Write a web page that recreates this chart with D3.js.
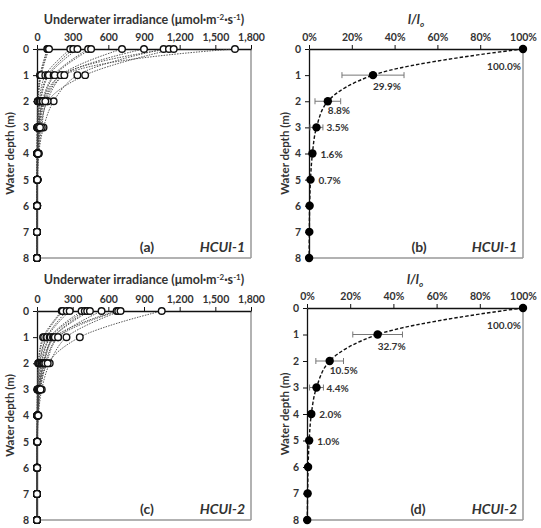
<!DOCTYPE html>
<html lang="en">
<head>
    <meta charset="UTF-8">
    <title>Underwater irradiance</title>
    <style>
        body { margin: 0; background: #fff; }
        svg text { font-family: Lato, "Open Sans", sans-serif; font-weight: bold; fill: #333; }
    </style>
</head>
<body>
    <script src="https://cdn.jsdelivr.net/npm/d3@7"></script>
    <script>
        // depths (m)
        var depths = [0, 1, 2, 3, 4, 5, 6, 7, 8];
        var irrTicks = [0, 300, 600, 900, 1200, 1500, 1800];
        var pctTicks = [0, 20, 40, 60, 80, 100];

        // HCUI-1 profiles (umol m-2 s-1), one per sampling
        var profilesA = [
            [86, 25, 6, 2, 1, 0, 0, 0, 0],
            [93, 30, 8, 3, 1, 0.5, 0, 0, 0],
            [101, 35, 10, 3, 1, 0.5, 0, 0, 0],
            [280, 70, 20, 6, 2, 1, 0, 0, 0],
            [305, 90, 25, 8, 3, 1, 0, 0, 0],
            [340, 100, 30, 10, 4, 1, 0.5, 0, 0],
            [430, 140, 45, 15, 5, 2, 1, 0, 0],
            [455, 150, 50, 18, 6, 2, 1, 0, 0],
            [715, 200, 60, 20, 7, 3, 1, 0, 0],
            [900, 225, 85, 30, 10, 3, 1, 0, 0],
            [1065, 340, 140, 55, 15, 5, 2, 1, 0],
            [1110, 200, 50, 15, 5, 2, 1, 0, 0],
            [1150, 405, 90, 40, 12, 4, 1, 0, 0],
            [1665, 230, 70, 25, 8, 3, 1, 0, 0]
        ];
        // HCUI-2 profiles
        var profilesC = [
            [208, 51, 10, 3, 1, 0, 0, 0, 0],
            [216, 60, 12, 4, 1, 0, 0, 0, 0],
            [250, 79, 20, 6, 2, 1, 0, 0, 0],
            [275, 85, 25, 8, 3, 1, 0, 0, 0],
            [375, 107, 35, 12, 4, 1, 0, 0, 0],
            [402, 115, 40, 14, 4, 1, 0, 0, 0],
            [422, 135, 50, 16, 5, 2, 0, 0, 0],
            [445, 140, 55, 18, 6, 2, 1, 0, 0],
            [543, 177, 79, 25, 8, 2, 1, 0, 0],
            [670, 150, 60, 20, 6, 2, 1, 0, 0],
            [683, 177, 70, 22, 7, 2, 1, 0, 0],
            [703, 248, 107, 40, 12, 4, 1, 0, 0],
            [1049, 360, 90, 30, 10, 3, 1, 0, 0]
        ];
        // I/Io (%) mean and error
        var pctB = [100, 29.9, 8.8, 3.5, 1.6, 0.7, 0.3, 0.15, 0.05];
        var errB = [0, 14.5, 6.0, 3.0, 1.2, 0.5, 0.2, 0.1, 0.05];
        var pctD = [100, 32.7, 10.5, 4.4, 2.0, 1.0, 0.5, 0.3, 0.1];
        var errD = [0, 11.5, 6.4, 3.2, 1.3, 0.6, 0.3, 0.2, 0.1];

        var width = 541, height = 528;
        var svg = d3.select('body').append('svg')
            .attr('width', width)
            .attr('height', height);

        // label offsets for each depth in percent panels
        var labelPos = [
            {dx: -19, dy: 21, anchor: 'middle'},
            {dx: 0, dy: 15, anchor: 'start'},
            {dx: 0, dy: 13, anchor: 'start'},
            {dx: 10, dy: 4, anchor: 'start'},
            {dx: 8, dy: 4, anchor: 'start'},
            {dx: 8, dy: 4, anchor: 'start'}
        ];

        function frame(x, y, ticks, fmt) {
            // grey plot border on right and bottom
            svg.append('line')
                .attr('x1', x.range()[1]).attr('x2', x.range()[1])
                .attr('y1', y.range()[0]).attr('y2', y.range()[1])
                .attr('stroke', '#999').attr('stroke-width', 1.5);
            svg.append('line')
                .attr('x1', x.range()[0]).attr('x2', x.range()[1])
                .attr('y1', y.range()[1]).attr('y2', y.range()[1])
                .attr('stroke', '#999').attr('stroke-width', 1.5);

            var gx = svg.append('g')
                .attr('transform', 'translate(0,' + y.range()[0] + ')')
                .call(d3.axisTop(x).tickValues(ticks).tickFormat(fmt).tickSize(4).tickSizeOuter(0).tickPadding(4));
            var gy = svg.append('g')
                .attr('transform', 'translate(' + x.range()[0] + ',0)')
                .call(d3.axisLeft(y).tickValues(depths).tickSize(4).tickSizeOuter(0).tickPadding(4));
            [gx, gy].forEach(function(g) {
                g.select('.domain').attr('stroke', '#111').attr('stroke-width', 1.3);
                g.selectAll('.tick line').attr('stroke', '#111');
                g.selectAll('.tick text').attr('font-size', 10.5).attr('fill', '#333')
                    .style('font-family', 'Lato, sans-serif').style('font-weight', 'bold');
            });
        }

        function ytitle(xp, cy) {
            svg.append('text')
                .attr('transform', 'translate(' + xp + ',' + cy + ') rotate(-90)')
                .attr('text-anchor', 'middle')
                .attr('font-size', 11.5)
                .text('Water depth (m)');
        }

        function tags(x, y, letter, site) {
            var yb = y.range()[1] - 6;
            svg.append('text')
                .attr('x', (x.range()[0] + x.range()[1]) / 2 + 3)
                .attr('y', yb)
                .attr('text-anchor', 'middle')
                .attr('font-size', 14)
                .text('(' + letter + ')');
            svg.append('text')
                .attr('x', x.range()[1] - 6)
                .attr('y', yb)
                .attr('text-anchor', 'end')
                .attr('font-size', 14)
                .attr('font-style', 'italic')
                .text(site);
        }

        function irrPanel(profiles, xr, yr, titleY, letter, site) {
            var x = d3.scaleLinear().domain([0, 1800]).range(xr);
            var y = d3.scaleLinear().domain([0, 8]).range(yr);
            frame(x, y, irrTicks, d3.format(','));

            var t = svg.append('text')
                .attr('x', (xr[0] + xr[1]) / 2)
                .attr('y', titleY)
                .attr('text-anchor', 'middle')
                .attr('font-size', 12.5);
            t.append('tspan').text('Underwater irradiance (\u03bcmol\u00b7m');
            t.append('tspan').attr('font-size', 8).attr('dy', -4).text('-2');
            t.append('tspan').attr('dy', 4).text('\u00b7s');
            t.append('tspan').attr('font-size', 8).attr('dy', -4).text('-1');
            t.append('tspan').attr('dy', 4).text(')');

            var line = d3.line()
                .x(function(d, i) { return x(d); })
                .y(function(d, i) { return y(depths[i]); })
                .curve(d3.curveCatmullRom.alpha(0.5));

            svg.append('g').selectAll('path')
                .data(profiles)
                .enter()
                .append('path')
                .attr('d', line)
                .attr('fill', 'none')
                .attr('stroke', '#444')
                .attr('stroke-width', 0.9)
                .attr('stroke-dasharray', '1.5,1.2');

            profiles.forEach(function(p) {
                svg.append('g').selectAll('circle')
                    .data(p)
                    .enter()
                    .append('circle')
                    .attr('cx', function(d) { return x(d); })
                    .attr('cy', function(d, i) { return y(depths[i]); })
                    .attr('r', 3.3)
                    .attr('fill', '#fff')
                    .attr('stroke', '#111')
                    .attr('stroke-width', 1.4);
            });
            ytitle(14, (yr[0] + yr[1]) / 2);
            tags(x, y, letter, site);
        }

        function pctPanel(pct, err, xr, yr, titleY, letter, site) {
            var x = d3.scaleLinear().domain([0, 100]).range(xr);
            var y = d3.scaleLinear().domain([0, 8]).range(yr);
            frame(x, y, pctTicks, function(d) { return d + '%'; });

            var t = svg.append('text')
                .attr('x', (xr[0] + xr[1]) / 2 - 0)
                .attr('y', titleY)
                .attr('text-anchor', 'middle')
                .attr('font-size', 12.5)
                .attr('font-style', 'italic');
            t.append('tspan').text('I/I');
            t.append('tspan').attr('font-size', 8).attr('dy', 3).text('o');

            // error bars
            var eb = svg.append('g').selectAll('g')
                .data(pct.map(function(d, i) { return {v: d, e: err[i], z: depths[i]}; })
                    .filter(function(d) { return d.e > 0.8; }))
                .enter()
                .append('g')
                .attr('stroke', '#777')
                .attr('stroke-width', 1);
            eb.append('line')
                .attr('x1', function(d) { return x(Math.max(0, d.v - d.e)); })
                .attr('x2', function(d) { return x(d.v + d.e); })
                .attr('y1', function(d) { return y(d.z); })
                .attr('y2', function(d) { return y(d.z); });
            eb.append('line')
                .attr('x1', function(d) { return x(Math.max(0, d.v - d.e)); })
                .attr('x2', function(d) { return x(Math.max(0, d.v - d.e)); })
                .attr('y1', function(d) { return y(d.z) - 3; })
                .attr('y2', function(d) { return y(d.z) + 3; });
            eb.append('line')
                .attr('x1', function(d) { return x(d.v + d.e); })
                .attr('x2', function(d) { return x(d.v + d.e); })
                .attr('y1', function(d) { return y(d.z) - 3; })
                .attr('y2', function(d) { return y(d.z) + 3; });

            var line = d3.line()
                .x(function(d) { return x(d); })
                .y(function(d, i) { return y(depths[i]); })
                .curve(d3.curveCatmullRom.alpha(0.5));
            svg.append('path')
                .datum(pct)
                .attr('d', line)
                .attr('fill', 'none')
                .attr('stroke', '#111')
                .attr('stroke-width', 1.4)
                .attr('stroke-dasharray', '3.5,2');

            svg.append('g').selectAll('circle')
                .data(pct)
                .enter()
                .append('circle')
                .attr('cx', function(d) { return x(d); })
                .attr('cy', function(d, i) { return y(depths[i]); })
                .attr('r', 4.2)
                .attr('fill', '#000');

            svg.append('g').selectAll('text')
                .data(pct.slice(0, labelPos.length))
                .enter()
                .append('text')
                .attr('x', function(d, i) { return x(d) + labelPos[i].dx; })
                .attr('y', function(d, i) { return y(depths[i]) + labelPos[i].dy; })
                .attr('text-anchor', function(d, i) { return labelPos[i].anchor; })
                .attr('font-size', 10)
                .attr('fill', '#444')
                .text(function(d) { return d3.format('.1f')(d) + '%'; });

            ytitle(289, (yr[0] + yr[1]) / 2);
            tags(x, y, letter, site);
        }

        irrPanel(profilesA, [37, 251], [49, 258], 24, 'a', 'HCUI-1');
        pctPanel(pctB, errB, [309, 523], [49, 258], 24, 'b', 'HCUI-1');
        irrPanel(profilesC, [37, 251], [311, 520], 284, 'c', 'HCUI-2');
        pctPanel(pctD, errD, [307, 523], [308, 520], 284, 'd', 'HCUI-2');
    </script>
</body>
</html>
